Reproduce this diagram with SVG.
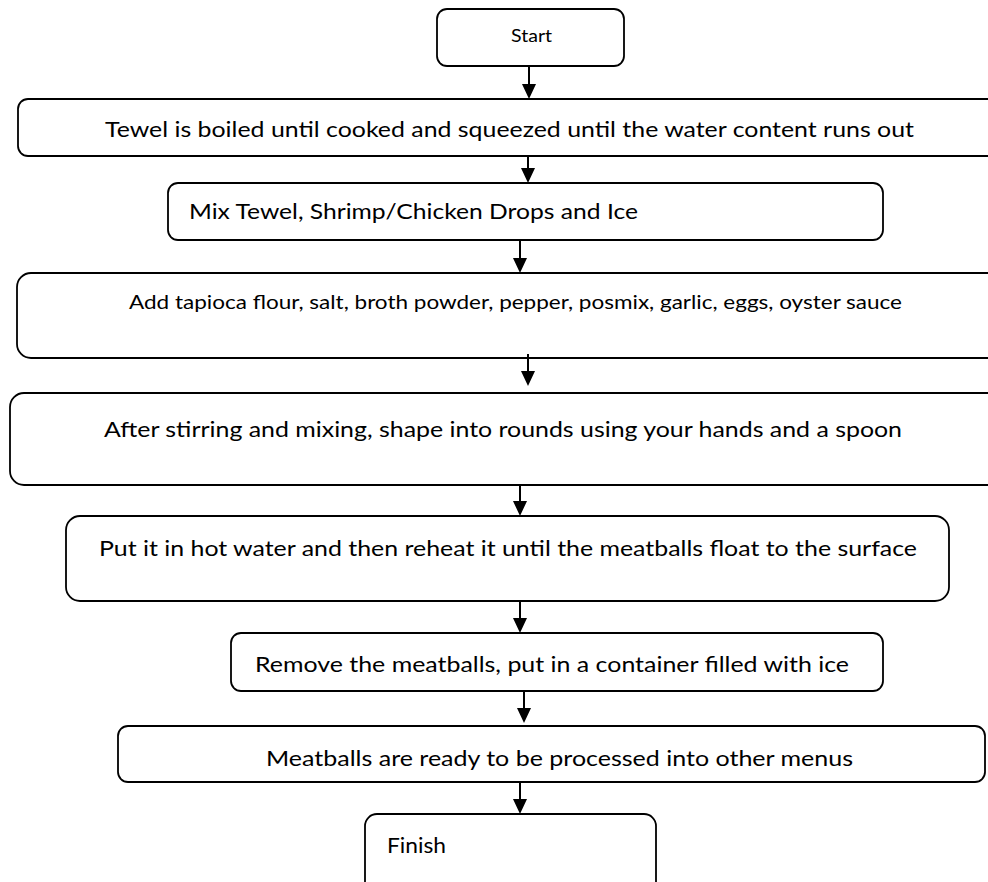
<svg xmlns="http://www.w3.org/2000/svg" width="988" height="882" viewBox="0 0 988 882">
<style>
.box{fill:#ffffff;stroke:#000000;stroke-width:1.8}
.t{font-family:Lato,'Open Sans','Liberation Sans',sans-serif;font-size:22px;fill:#000000}
.s{font-size:19px}
.c{stroke:#000000;stroke-width:2;fill:none}
</style>
<defs>
<marker id="ah" markerUnits="userSpaceOnUse" markerWidth="16" markerHeight="16" refX="5" refY="7" orient="auto">
<path d="M0,0 L15,7 L0,14 Z" fill="#000000"/>
</marker>
</defs>
<rect width="988" height="882" fill="#ffffff"/>
<g id="start">
<rect class="box" x="437" y="9" width="187" height="57" rx="10"/>
<text class="t" x="511" y="42" style="font-size:17px" textLength="41" lengthAdjust="spacingAndGlyphs">Start</text>
</g>
<g id="step1">
<rect class="box" x="18" y="99" width="1000" height="57" rx="10"/>
<text class="t" x="105" y="137" textLength="809" lengthAdjust="spacingAndGlyphs">Tewel is boiled until cooked and squeezed until the water content runs out</text>
</g>
<g id="step2">
<rect class="box" x="168" y="183" width="715" height="57" rx="10"/>
<text class="t" x="189" y="219" textLength="449" lengthAdjust="spacingAndGlyphs">Mix Tewel, Shrimp/Chicken Drops and Ice</text>
</g>
<g id="step3">
<rect class="box" x="17" y="273" width="1000" height="85" rx="14"/>
<text class="t s" x="129" y="309" textLength="773" lengthAdjust="spacingAndGlyphs">Add tapioca flour, salt, broth powder, pepper, posmix, garlic, eggs, oyster sauce</text>
</g>
<g id="step4">
<rect class="box" x="10" y="393" width="1010" height="92" rx="14"/>
<text class="t" x="104" y="437" textLength="798" lengthAdjust="spacingAndGlyphs">After stirring and mixing, shape into rounds using your hands and a spoon</text>
</g>
<g id="step5">
<rect class="box" x="66" y="516" width="883" height="85" rx="14"/>
<text class="t" x="99" y="556" textLength="818" lengthAdjust="spacingAndGlyphs">Put it in hot water and then reheat it until the meatballs float to the surface</text>
</g>
<g id="step6">
<rect class="box" x="231" y="633" width="652" height="58" rx="10"/>
<text class="t" x="255" y="672" textLength="594" lengthAdjust="spacingAndGlyphs">Remove the meatballs, put in a container filled with ice</text>
</g>
<g id="step7">
<rect class="box" x="118" y="726" width="867" height="56" rx="10"/>
<text class="t" x="266" y="766" textLength="587" lengthAdjust="spacingAndGlyphs">Meatballs are ready to be processed into other menus</text>
</g>
<g id="finish">
<rect class="box" x="365" y="814" width="291" height="90" rx="12"/>
<text class="t" x="387" y="853" textLength="59" lengthAdjust="spacingAndGlyphs">Finish</text>
</g>
<g id="connectors">
<line class="c" x1="529" y1="66" x2="529" y2="89" marker-end="url(#ah)"/>
<line class="c" x1="528" y1="156" x2="528" y2="173" marker-end="url(#ah)"/>
<line class="c" x1="520" y1="240" x2="520" y2="263" marker-end="url(#ah)"/>
<line class="c" x1="528" y1="354" x2="528" y2="376" marker-end="url(#ah)"/>
<line class="c" x1="520" y1="485" x2="520" y2="506" marker-end="url(#ah)"/>
<line class="c" x1="520" y1="601" x2="520" y2="623" marker-end="url(#ah)"/>
<line class="c" x1="524" y1="691" x2="524" y2="713" marker-end="url(#ah)"/>
<line class="c" x1="520" y1="782" x2="520" y2="804" marker-end="url(#ah)"/>
</g>
</svg>
